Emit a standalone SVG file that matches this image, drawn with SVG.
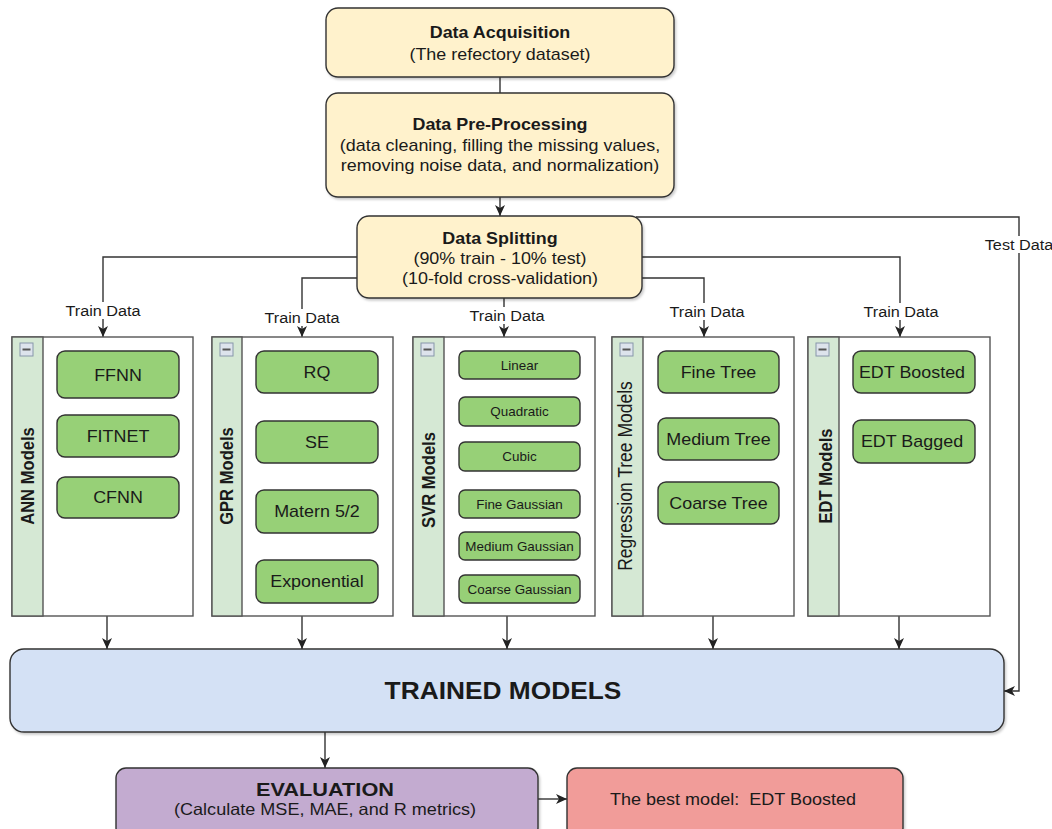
<svg xmlns="http://www.w3.org/2000/svg" width="1052" height="829" viewBox="0 0 1052 829">
<style>
text{font-family:"Liberation Sans",Arial,Helvetica,sans-serif;fill:#1a1a1a;text-anchor:middle}
.b{font-weight:bold}
.f16{font-size:16px}
.f12{font-size:12px}
.f145{font-size:14.5px}
.yel{fill:#fff2cc;stroke:#333;stroke-width:1.4}
.grn{fill:#97d077;stroke:#333;stroke-width:1.4}
.cont{fill:#fff;stroke:#555;stroke-width:1.4}
.strip{fill:#d5e8d4;stroke:#555;stroke-width:1.4}
.icon{fill:#dde3ec;stroke:#8796aa;stroke-width:1}
.minus{stroke:#555;stroke-width:2}
.ln{fill:none;stroke:#333;stroke-width:1.4}
.arr{marker-end:url(#ah)}
.lbg{fill:#fff}
</style>
<defs>
<marker id="ah" markerUnits="userSpaceOnUse" markerWidth="12" markerHeight="10" refX="11" refY="5" orient="auto">
<path d="M0,0 L11,5 L0,10 L3,5 z" fill="#222"/>
</marker>
<filter id="sh" x="-5%" y="-5%" width="115%" height="130%">
<feDropShadow dx="1.5" dy="2" stdDeviation="1.2" flood-color="#000" flood-opacity="0.2"/>
</filter>
</defs>

<g id="connectors">
<path class="ln" d="M500,77 V93"/>
<path class="ln arr" d="M500,197 V216"/>
<path class="ln arr" d="M357,257 H103 V337"/>
<path class="ln arr" d="M357,278 H302 V337"/>
<path class="ln arr" d="M504,298 V337"/>
<path class="ln arr" d="M642,278 H704 V337"/>
<path class="ln arr" d="M642,257 H900 V337"/>
<path class="ln arr" d="M636,217 H1019 V691 H1004"/>
<path class="ln arr" d="M107,616 V649"/>
<path class="ln arr" d="M302,616 V649"/>
<path class="ln arr" d="M507,616 V649"/>
<path class="ln arr" d="M713,616 V649"/>
<path class="ln arr" d="M899,616 V649"/>
<path class="ln arr" d="M325,732 V768"/>
<path class="ln arr" d="M538,799 H567"/>
<rect class="lbg" x="64" y="302" width="78" height="17"/>
<text class="f145" transform="translate(103,316) scale(1.12,1)">Train Data</text>
<rect class="lbg" x="263" y="309" width="78" height="17"/>
<text class="f145" transform="translate(302,323) scale(1.12,1)">Train Data</text>
<rect class="lbg" x="465" y="307" width="78" height="17"/>
<text class="f145" transform="translate(507,321) scale(1.12,1)">Train Data</text>
<rect class="lbg" x="668" y="303" width="78" height="17"/>
<text class="f145" transform="translate(707,317) scale(1.12,1)">Train Data</text>
<rect class="lbg" x="862" y="303" width="78" height="17"/>
<text class="f145" transform="translate(901,317) scale(1.12,1)">Train Data</text>
<rect class="lbg" x="984" y="236" width="68" height="17"/>
<text class="f145" transform="translate(1019,250) scale(1.12,1)">Test Data</text>
</g>

<g id="acquisition">
<rect class="yel" x="326" y="8" width="348" height="69" rx="12" filter="url(#sh)"/>
<text class="b f16" transform="translate(500,38) scale(1.12,1)">Data Acquisition</text>
<text class="f16" transform="translate(500,60) scale(1.12,1)">(The refectory dataset)</text>
</g>

<g id="preprocessing">
<rect class="yel" x="326" y="93" width="348" height="104" rx="12" filter="url(#sh)"/>
<text class="b f16" transform="translate(500,130) scale(1.12,1)">Data Pre-Processing</text>
<text class="f16" transform="translate(500,151) scale(1.12,1)">(data cleaning, filling the missing values,</text>
<text class="f16" transform="translate(500,171) scale(1.12,1)">removing noise data, and normalization)</text>
</g>

<g id="splitting">
<rect class="yel" x="357" y="216" width="285" height="82" rx="12" filter="url(#sh)"/>
<text class="b f16" transform="translate(500,244) scale(1.12,1)">Data Splitting</text>
<text class="f16" transform="translate(500,264) scale(1.12,1)">(90% train - 10% test)</text>
<text class="f16" transform="translate(500,284) scale(1.12,1)">(10-fold cross-validation)</text>
</g>

<g id="ann">
<rect class="cont" x="12" y="337" width="181" height="279"/>
<rect class="strip" x="12" y="337" width="31" height="279"/>
<rect class="icon" x="20" y="343" width="13" height="13"/>
<line class="minus" x1="22.5" y1="349.5" x2="30.5" y2="349.5"/>
<text class="b" font-size="16.6" transform="translate(33.5,476) scale(1.15,1) rotate(-90)">ANN Models</text>
<g id="ffnn"><rect class="grn" x="57" y="351" width="122" height="47" rx="8"/><text class="f16" transform="translate(118,381) scale(1.12,1)">FFNN</text></g>
<g id="fitnet"><rect class="grn" x="57" y="415" width="122" height="42" rx="8"/><text class="f16" transform="translate(118,442) scale(1.12,1)">FITNET</text></g>
<g id="cfnn"><rect class="grn" x="57" y="477" width="122" height="41" rx="8"/><text class="f16" transform="translate(118,503) scale(1.12,1)">CFNN</text></g>
</g>

<g id="gpr">
<rect class="cont" x="212" y="337" width="181" height="279"/>
<rect class="strip" x="212" y="337" width="30" height="279"/>
<rect class="icon" x="220" y="343" width="13" height="13"/>
<line class="minus" x1="222.5" y1="349.5" x2="230.5" y2="349.5"/>
<text class="b" font-size="16.6" transform="translate(232.5,476) scale(1.15,1) rotate(-90)">GPR Models</text>
<g id="rq"><rect class="grn" x="256" y="351" width="122" height="42" rx="8"/><text class="f16" transform="translate(317,378) scale(1.12,1)">RQ</text></g>
<g id="se"><rect class="grn" x="256" y="421" width="122" height="42" rx="8"/><text class="f16" transform="translate(317,448) scale(1.12,1)">SE</text></g>
<g id="matern"><rect class="grn" x="256" y="490" width="122" height="43" rx="8"/><text class="f16" transform="translate(317,517) scale(1.12,1)">Matern 5/2</text></g>
<g id="exponential"><rect class="grn" x="256" y="560" width="122" height="43" rx="8"/><text class="f16" transform="translate(317,587) scale(1.12,1)">Exponential</text></g>
</g>

<g id="svr">
<rect class="cont" x="413" y="337" width="182" height="279"/>
<rect class="strip" x="413" y="337" width="31" height="279"/>
<rect class="icon" x="421" y="343" width="13" height="13"/>
<line class="minus" x1="423.5" y1="349.5" x2="431.5" y2="349.5"/>
<text class="b" font-size="16.6" transform="translate(435,480) scale(1.15,1) rotate(-90)">SVR Models</text>
<g id="linear"><rect class="grn" x="459" y="351" width="121" height="28" rx="6"/><text class="f12" transform="translate(519.5,369.5) scale(1.12,1)">Linear</text></g>
<g id="quadratic"><rect class="grn" x="459" y="397" width="121" height="29" rx="6"/><text class="f12" transform="translate(519.5,416) scale(1.12,1)">Quadratic</text></g>
<g id="cubic"><rect class="grn" x="459" y="442" width="121" height="29" rx="6"/><text class="f12" transform="translate(519.5,461) scale(1.12,1)">Cubic</text></g>
<g id="finegaussian"><rect class="grn" x="459" y="490" width="121" height="28" rx="6"/><text class="f12" transform="translate(519.5,508.5) scale(1.12,1)">Fine Gaussian</text></g>
<g id="mediumgaussian"><rect class="grn" x="459" y="532" width="121" height="28" rx="6"/><text class="f12" transform="translate(519.5,550.5) scale(1.12,1)">Medium Gaussian</text></g>
<g id="coarsegaussian"><rect class="grn" x="459" y="575" width="121" height="28" rx="6"/><text class="f12" transform="translate(519.5,593.5) scale(1.12,1)">Coarse Gaussian</text></g>
</g>

<g id="regressiontree">
<rect class="cont" x="612" y="337" width="182" height="279"/>
<rect class="strip" x="612" y="337" width="31" height="279"/>
<rect class="icon" x="620" y="343" width="13" height="13"/>
<line class="minus" x1="622.5" y1="349.5" x2="630.5" y2="349.5"/>
<text font-size="17.5" transform="translate(632,476) scale(1.15,1) rotate(-90)">Regression Tree Models</text>
<g id="finetree"><rect class="grn" x="658" y="351" width="121" height="42" rx="8"/><text class="f16" transform="translate(718.5,378) scale(1.12,1)">Fine Tree</text></g>
<g id="mediumtree"><rect class="grn" x="658" y="418" width="121" height="42" rx="8"/><text class="f16" transform="translate(718.5,445) scale(1.12,1)">Medium Tree</text></g>
<g id="coarsetree"><rect class="grn" x="658" y="482" width="121" height="42" rx="8"/><text class="f16" transform="translate(718.5,509) scale(1.12,1)">Coarse Tree</text></g>
</g>

<g id="edt">
<rect class="cont" x="808" y="337" width="182" height="279"/>
<rect class="strip" x="808" y="337" width="31" height="279"/>
<rect class="icon" x="816" y="343" width="13" height="13"/>
<line class="minus" x1="818.5" y1="349.5" x2="826.5" y2="349.5"/>
<text class="b" font-size="16.6" transform="translate(831.5,476) scale(1.15,1) rotate(-90)">EDT Models</text>
<g id="edtboosted"><rect class="grn" x="853" y="351" width="122" height="42" rx="8"/><text class="f16" transform="translate(912,378) scale(1.12,1)">EDT Boosted</text></g>
<g id="edtbagged"><rect class="grn" x="853" y="420" width="122" height="43" rx="8"/><text class="f16" transform="translate(912,447) scale(1.12,1)">EDT Bagged</text></g>
</g>

<g id="trained">
<rect x="10" y="649" width="994" height="83" rx="14" fill="#d4e1f5" stroke="#333" stroke-width="1.4" filter="url(#sh)"/>
<text class="b" font-size="23.5" transform="translate(503,699) scale(1.12,1)">TRAINED MODELS</text>
</g>

<g id="evaluation">
<rect x="116" y="768" width="422" height="70" rx="10" fill="#c3abd0" stroke="#333" stroke-width="1.4" filter="url(#sh)"/>
<text class="b" font-size="19" transform="translate(325,796)" textLength="138" lengthAdjust="spacingAndGlyphs">EVALUATION</text>
<text font-size="16.5" transform="translate(325,815)" textLength="302" lengthAdjust="spacingAndGlyphs">(Calculate MSE, MAE, and R metrics)</text>
</g>

<g id="bestmodel">
<rect x="567" y="768" width="336" height="70" rx="10" fill="#f19c99" stroke="#333" stroke-width="1.4" filter="url(#sh)"/>
<text font-size="16.5" transform="translate(733,805)" textLength="246" lengthAdjust="spacingAndGlyphs" xml:space="preserve">The best model:  EDT Boosted</text>
</g>
</svg>
